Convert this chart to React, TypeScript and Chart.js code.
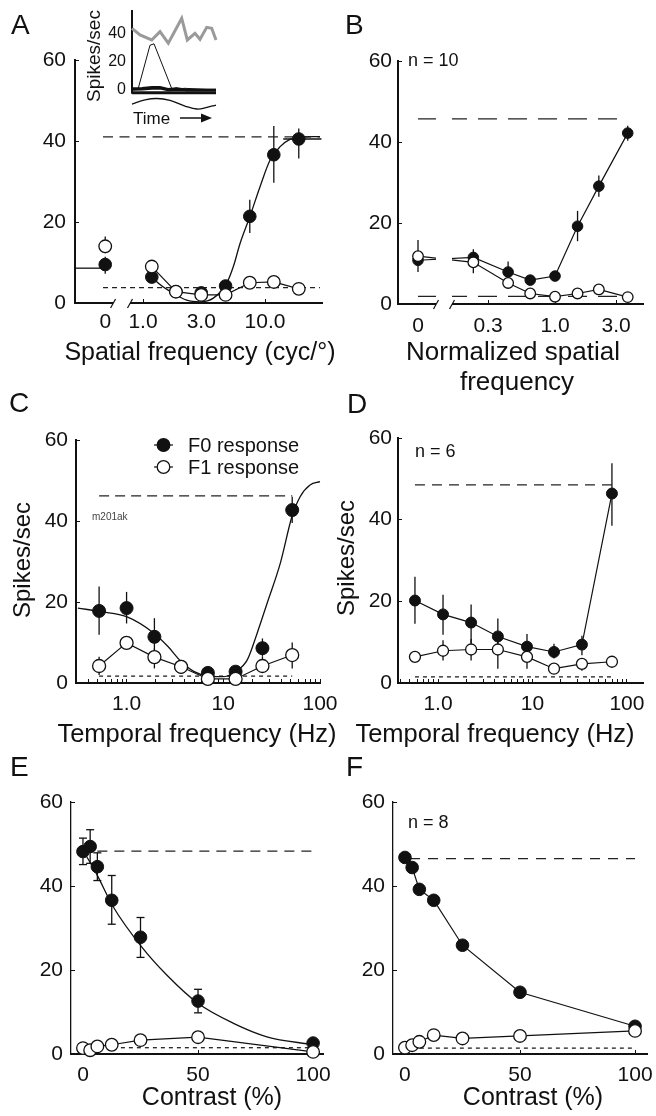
import React, { useEffect, useRef } from "react";
import { Chart, registerables } from "chart.js";

Chart.register(...registerables);

const W = 656;
const H = 1116;
const YW = 60;
const XH = 40;
const FONT = '"Liberation Sans", Arial, Helvetica, sans-serif';
const INK = "#111111";

// ---------- shared ----------
const yTicks = [0, 20, 40, 60];
const yTickLabels = ["0", "20", "40", "60"];
const legendLabels = ["F0 response", "F1 response"];

// ---------- Panel A : spatial frequency (single cell) ----------
const aXMin = 0.277;
const aXMax = 29.3;
const aZeroPos = 0.49; // where the 0 cyc/deg condition is placed
const aBreak = [0.568, 0.782];
const aTickVals = [aZeroPos, 1, 3, 10];
const aTickLabels = ["0", "1.0", "3.0", "10.0"];
const aFreq = [1.18, 1.86, 3.0, 4.75, 7.5, 11.8, 18.9];
const aF0 = [6.4, 2.8, 2.5, 4.2, 21.4, 36.6, 40.5];
const aF1 = [9.0, 2.8, 2.0, 2.0, 5.0, 5.2, 3.5];
const aF0Err = [null, null, null, null, [17.3, 25.5], [29.7, 43.7], [35.7, 43.1]];
const aF1Err = [[8.0, 10.6], null, null, null, null, null, null];
const aF0XErr = [null, null, null, null, null, null, [14.1, 29.0]];
const aZeroF0 = 9.5;
const aZeroF1 = 14.0;
const aZeroF0Err = [7.2, 11.4];
const aZeroF1Err = [12.3, 16.4];
const aFitX = [1.2, 1.29, 1.77, 2.28, 2.93, 3.77, 4.85, 5.5, 6.24, 7.5, 9.1, 11, 13.3, 16, 19.4, 28.2];
const aFitY = [6.5, 5.3, 2.4, 0.7, 0.3, 1.2, 4.9, 9.0, 14.7, 21.3, 28.7, 35.3, 38.6, 40.4, 40.9, 41.1];
const aZeroFit = 8.6;
const aDashX = [0.47, 28.2];
const aUpper = 41;
const aLower = 3.8;

// ---------- Inset in A ----------
const insetGrayT = [0, 8, 19.7, 28, 36.3, 49.7, 55.3, 63, 68, 74.7, 79.7, 84];
const insetGrayV = [43.4, 38.7, 35.2, 41.1, 32.9, 50.5, 35.2, 39.9, 35.7, 44.1, 43.4, 35.2];
const insetThinT = [0, 6, 18, 22, 40, 44, 48, 52, 84];
const insetThinV = [0, 0.5, 31.5, 32.5, 0.5, 1.5, 0.5, 1.2, 0];
const insetThickT = [0, 10, 20, 28, 36, 45, 55, 84];
const insetThick1V = [1, 1.2, 2, 2, 0.5, 1, 0, 0];
const insetThick2V = [0.3, 0.5, 1, 1.2, 0, 0.3, 0, 0];
const insetWaveT = [0, 13, 25, 38, 53, 65, 75, 84];
const insetWaveV = [-9.9, -7, -6, -7.4, -11.3, -13.4, -12.3, -10.6];
const insetYTicks = [0, 20, 40];
const insetYTickLabels = ["0", "20", "40"];

// ---------- Panel B : normalized spatial frequency (n = 10) ----------
const bXMin = 0.0593;
const bXMax = 4.87;
const bZeroPos = 0.085;
const bBreak = [0.1175, 0.1567];
const bTickVals = [bZeroPos, 0.3, 1, 3];
const bTickLabels = ["0", "0.3", "1.0", "3.0"];
const bFreq = [0.23, 0.43, 0.64, 1.0, 1.5, 2.2, 3.7];
const bF0 = [11.5, 7.9, 5.9, 6.9, 19.2, 29.1, 42.2];
const bF1 = [10.3, 5.2, 2.6, 1.8, 2.6, 3.6, 1.7];
const bF0Err = [[9.5, 13.5], [6.0, 10.5], null, null, [15.5, 23.0], [26.5, 31.7], [40.3, 44.0]];
const bF1Err = [[7.6, 12.0], null, null, null, null, null, null];
const bZeroF0 = 10.8;
const bZeroF1 = 11.8;
const bZeroErr = [7.9, 15.8];
const bUpper = 45.7;
const bLower = 1.9;

// ---------- Panel C : temporal frequency (single cell) ----------
const cXMin = 0.314;
const cXMax = 100;
const logMajor = [1, 10, 100];
const logMajorLabels = ["1.0", "10", "100"];
const logMinor = [0.4, 0.5, 0.6, 0.7, 0.8, 0.9, 2, 3, 4, 5, 6, 7, 8, 9, 20, 30, 40, 50, 60, 70, 80, 90];
const cFreq = [0.52, 1.0, 1.94, 3.66, 6.93, 13.4, 25.4, 51.6];
const cF0 = [17.8, 18.5, 11.4, 4.0, 2.5, 2.8, 8.6, 42.7];
const cF1 = [4.2, 9.9, 6.4, 4.0, 1.0, 1.0, 4.2, 6.9];
const cF0Err = [[11.9, 23.8], [14.7, 22.5], [7.7, 16.0], null, null, null, [6.5, 11.0], [39.5, 46.0]];
const cF1Err = [[2.0, 6.5], [8.3, 11.6], [3.6, 8.5], null, null, null, [2.8, 6.5], [3.6, 10.0]];
const cFitX = [0.314, 0.55, 1.0, 1.92, 2.68, 3.66, 5.0, 6.98, 9.8, 13.4, 17.7, 22.4, 28.4, 38.9, 51.3, 62.3, 78.9, 100];
const cFitY = [18.5, 17.6, 16.4, 12.3, 9.0, 5.3, 2.8, 1.7, 1.55, 2.8, 5.7, 12.3, 19.7, 29.6, 41.1, 46.0, 48.9, 49.7];
const cUpper = 46.2;
const cLower = 1.7;

// ---------- Panel D : temporal frequency (n = 6) ----------
const dXMin = 0.377;
const dXMax = 148;
const dFreq = [0.57, 1.13, 2.24, 4.3, 8.75, 16.9, 33.4, 69.4];
const dF0 = [20.2, 16.8, 14.8, 11.4, 8.9, 7.6, 9.4, 46.4];
const dF1 = [6.4, 7.9, 8.2, 8.2, 6.4, 3.5, 4.7, 5.2];
const dF0Err = [[14.5, 26.0], [11.8, 21.6], [9.8, 19.2], [7.5, 15.8], [6.3, 12.0], [6.0, 9.6], [6.8, 11.6], [38.5, 53.8]];
const dF1Err = [null, [5.5, 10.5], [5.5, 10.8], [3.5, 11.0], [3.5, 9.0], null, [3.0, 6.0], null];
const dUpper = 48.5;
const dLower = 1.5;

// ---------- Panels E, F : contrast ----------
const contrast = [0, 3.125, 6.25, 12.5, 25, 50, 100];
const linTicks = [0, 50, 100];
const linTickLabels = ["0", "50", "100"];
const eF0 = [48.2, 49.4, 44.6, 36.6, 27.8, 12.6, 2.6];
const eF1 = [1.4, 0.9, 1.8, 2.2, 3.3, 4.0, 0.5];
const eF0Err = [[45.1, 51.4], [45.4, 53.4], [41.3, 47.9], [30.9, 42.5], [23.0, 32.5], [9.8, 15.4], null];
const eFitX = [0, 5.9, 13.2, 25.5, 36.4, 50.1, 65.4, 79.9, 100];
const eFitY = [48.5, 42.9, 35.0, 25.5, 18.8, 12.0, 7.3, 4.1, 2.2];
const eUpper = 48.3;
const eUpperX = [6.25, 100];
const eLower = 1.5;
const eLowerX = [13, 100];

const fF0 = [46.8, 44.4, 39.2, 36.6, 25.9, 14.7, 6.6];
const fF1 = [1.5, 2.1, 2.9, 4.5, 3.7, 4.3, 5.5];
const fUpper = 46.5;
const fUpperX = [2.2, 100];
const fLower = 1.4;
const fLowerX = [3, 100];

// ---------- helpers ----------
type Area = { l: number; t: number; r: number; b: number };

const pts = (xs: number[], ys: number[]) => xs.map((x, i) => ({ x, y: ys[i] }));

function layoutFor(a: Area) {
  return { padding: { left: a.l - YW, top: a.t, right: W - a.r, bottom: H - a.b - XH } };
}

function yAxis(gap: number, bw: number) {
  return {
    type: "linear",
    min: 0,
    max: 60,
    afterBuildTicks: (s: any) => {
      s.ticks = yTicks.map((v) => ({ value: v }));
    },
    afterFit: (s: any) => {
      s.width = YW;
      s.paddingTop = 0;
      s.paddingBottom = 0;
    },
    ticks: { font: { family: FONT, size: 21 }, color: INK, padding: gap + 4, callback: (_v: any, i: number) => yTickLabels[i] },
    grid: { display: true, drawOnChartArea: false, drawTicks: true, tickLength: -4, tickWidth: 1, tickColor: INK },
    border: { display: true, color: INK, width: bw },
  };
}

function xAxis(o: { type: string; min: number; max: number; vals: number[]; labels: string[]; pad: number; hideFirst?: boolean }) {
  return {
    type: o.type,
    min: o.min,
    max: o.max,
    afterBuildTicks: (s: any) => {
      s.ticks = o.vals.map((v) => ({ value: v }));
    },
    afterFit: (s: any) => {
      s.height = XH;
      s.paddingLeft = 0;
      s.paddingRight = 0;
    },
    ticks: {
      font: { family: FONT, size: 21 },
      color: INK,
      padding: o.pad,
      autoSkip: false,
      maxRotation: 0,
      minRotation: 0,
      callback: (_v: any, i: number) => o.labels[i],
    },
    grid: {
      display: true,
      drawOnChartArea: false,
      drawTicks: true,
      tickLength: -4,
      tickWidth: 1,
      tickColor: (c: any) => (o.hideFirst && c.index === 0 ? "rgba(0,0,0,0)" : INK),
    },
    border: { display: true, color: INK, width: 2 },
  };
}

function logTicks(min: number, max: number) {
  const all = [...logMinor, ...logMajor].filter((v) => v >= min && v <= max).sort((a, b) => a - b);
  const labels = all.map((v) => {
    const k = logMajor.indexOf(v);
    return k >= 0 ? logMajorLabels[k] : "";
  });
  return { vals: all, labels };
}

function filledPts(data: any[], r: number, line = false) {
  return {
    data,
    showLine: line,
    borderColor: INK,
    borderWidth: 1.2,
    pointRadius: r,
    pointHoverRadius: r,
    pointBackgroundColor: INK,
    pointBorderColor: INK,
    pointBorderWidth: 1,
    clip: false,
    order: 2,
  };
}

function openPts(data: any[], r: number, line = false) {
  return {
    data,
    showLine: line,
    borderColor: INK,
    borderWidth: 1.2,
    pointRadius: r,
    pointHoverRadius: r,
    pointBackgroundColor: "#ffffff",
    pointBorderColor: INK,
    pointBorderWidth: 1.3,
    clip: false,
    order: 1,
  };
}

function curve(data: any[]) {
  return {
    data,
    borderColor: INK,
    borderWidth: 1.3,
    pointRadius: 0,
    cubicInterpolationMode: "monotone",
    clip: false,
    order: 4,
  };
}

function dashed(x0: number, x1: number, y: number, dash: number[]) {
  return {
    data: [
      { x: x0, y },
      { x: x1, y },
    ],
    borderColor: "#222222",
    borderWidth: 1.3,
    borderDash: dash,
    pointRadius: 0,
    clip: false,
    order: 5,
  };
}

function drawLine(ctx: CanvasRenderingContext2D, x0: number, y0: number, x1: number, y1: number) {
  ctx.beginPath();
  ctx.moveTo(x0, y0);
  ctx.lineTo(x1, y1);
  ctx.stroke();
}

// ---------- plugins ----------
const errorBars = {
  id: "errorBars",
  beforeDatasetsDraw(chart: any, _a: any, o: any) {
    if (!o || (!o.sets && !o.hsets)) return;
    const { ctx } = chart;
    const x = chart.scales.x;
    const y = chart.scales.y;
    ctx.save();
    ctx.strokeStyle = INK;
    ctx.lineWidth = 1.3;
    (o.sets || []).forEach((s: any) => {
      s.xs.forEach((xv: number, i: number) => {
        const e = s.err[i];
        if (!e) return;
        const px = x.getPixelForValue(xv);
        const p0 = y.getPixelForValue(e[0]);
        const p1 = y.getPixelForValue(e[1]);
        drawLine(ctx, px, p0, px, p1);
        if (o.cap) {
          drawLine(ctx, px - o.cap, p0, px + o.cap, p0);
          drawLine(ctx, px - o.cap, p1, px + o.cap, p1);
        }
      });
    });
    (o.hsets || []).forEach((s: any) => {
      s.ys.forEach((yv: number, i: number) => {
        const e = s.err[i];
        if (!e) return;
        const py = y.getPixelForValue(yv);
        drawLine(ctx, x.getPixelForValue(e[0]), py, x.getPixelForValue(e[1]), py);
      });
    });
    ctx.restore();
  },
};

const axisBreak = {
  id: "axisBreak",
  afterDatasetsDraw(chart: any, _a: any, o: any) {
    if (!o || !o.range) return;
    const { ctx, chartArea } = chart;
    const x = chart.scales.x;
    const x0 = x.getPixelForValue(o.range[0]);
    const x1 = x.getPixelForValue(o.range[1]);
    const top = o.full ? chartArea.top : chartArea.bottom - 3;
    ctx.save();
    ctx.fillStyle = "#ffffff";
    ctx.fillRect(x0, top, x1 - x0, chartArea.bottom + 3 - top);
    ctx.strokeStyle = INK;
    ctx.lineWidth = 1.2;
    [x0, x1].forEach((px) => drawLine(ctx, px - 2.5, chartArea.bottom + 5, px + 2.5, chartArea.bottom - 4));
    ctx.restore();
  },
};

const legendMarks = {
  id: "legendMarks",
  afterDatasetsDraw(chart: any, _a: any, o: any) {
    if (!o || !o.rows) return;
    const { ctx } = chart;
    ctx.save();
    o.rows.forEach((row: any, i: number) => {
      const y = o.y0 + i * o.dy;
      ctx.strokeStyle = INK;
      ctx.lineWidth = 1.2;
      drawLine(ctx, o.x0, y, o.x1, y);
      ctx.beginPath();
      ctx.arc((o.x0 + o.x1) / 2, y, o.r, 0, Math.PI * 2);
      ctx.fillStyle = row.fill;
      ctx.fill();
      ctx.lineWidth = 1.3;
      ctx.stroke();
      ctx.fillStyle = INK;
      ctx.font = `20px ${FONT}`;
      ctx.textBaseline = "middle";
      ctx.textAlign = "left";
      ctx.fillText(row.label, o.tx, y + 1);
    });
    ctx.restore();
  },
};

const insetAxes = {
  id: "insetAxes",
  beforeDatasetsDraw(chart: any, _a: any, o: any) {
    if (!o || o.base === undefined) return;
    const { ctx, chartArea } = chart;
    const yb = chart.scales.y.getPixelForValue(o.base);
    ctx.save();
    ctx.strokeStyle = INK;
    ctx.lineWidth = 2;
    drawLine(ctx, chartArea.left, chartArea.top, chartArea.left, yb + 1);
    ctx.lineWidth = 3;
    drawLine(ctx, chartArea.left, yb, chartArea.right, yb);
    const [ax0, ax1, ay] = o.arrow;
    ctx.lineWidth = 1.5;
    drawLine(ctx, ax0, ay, ax1 - 8, ay);
    ctx.beginPath();
    ctx.moveTo(ax1, ay);
    ctx.lineTo(ax1 - 11, ay - 4.5);
    ctx.lineTo(ax1 - 11, ay + 4.5);
    ctx.closePath();
    ctx.fillStyle = INK;
    ctx.fill();
    ctx.restore();
  },
};

function baseOptions(area: Area, x: any, y: any, plugins: any) {
  return {
    responsive: false,
    animation: false,
    devicePixelRatio: 1,
    events: [],
    layout: layoutFor(area),
    scales: { x, y },
    plugins: { legend: { display: false }, tooltip: { enabled: false }, ...plugins },
  };
}

// ---------- chart configs ----------
function configA() {
  const area = { l: 75, t: 60, r: 322, b: 303 };
  return {
    type: "line",
    data: {
      datasets: [
        openPts(pts(aFreq, aF1), 6.3, true),
        openPts([{ x: aZeroPos, y: aZeroF1 }], 6.3),
        filledPts(pts(aFreq, aF0), 6.3),
        filledPts([{ x: aZeroPos, y: aZeroF0 }], 6.3),
        curve(pts(aFitX, aFitY)),
        curve([
          { x: aXMin, y: aZeroFit },
          { x: aZeroPos, y: aZeroFit },
        ]),
        dashed(aDashX[0], aDashX[1], aUpper, [10, 6.5]),
        dashed(aDashX[0], aDashX[1], aLower, [5, 4]),
      ],
    },
    options: baseOptions(
      area,
      xAxis({ type: "logarithmic", min: aXMin, max: aXMax, vals: aTickVals, labels: aTickLabels, pad: 10.9, hideFirst: true }),
      yAxis(9, 2),
      {
        errorBars: {
          sets: [
            { xs: aFreq, err: aF0Err },
            { xs: aFreq, err: aF1Err },
            { xs: [aZeroPos], err: [aZeroF0Err] },
            { xs: [aZeroPos], err: [aZeroF1Err] },
          ],
          hsets: [{ ys: aF0, err: aF0XErr }],
        },
        axisBreak: { range: aBreak, full: false },
      }
    ),
    plugins: [errorBars, axisBreak],
  };
}

function configInset() {
  const area = { l: 132, t: 10, r: 216, b: 112 };
  return {
    type: "line",
    data: {
      datasets: [
        { data: pts(insetGrayT, insetGrayV), borderColor: "#9a9a9a", borderWidth: 3, pointRadius: 0, clip: false },
        { data: pts(insetThinT, insetThinV), borderColor: INK, borderWidth: 1, pointRadius: 0, clip: false },
        { data: pts(insetThickT, insetThick1V), borderColor: INK, borderWidth: 2.5, pointRadius: 0, clip: false },
        { data: pts(insetThickT, insetThick2V), borderColor: INK, borderWidth: 2.5, pointRadius: 0, clip: false },
        { data: pts(insetWaveT, insetWaveV), borderColor: INK, borderWidth: 1.3, pointRadius: 0, tension: 0.4, clip: false },
      ],
    },
    options: {
      responsive: false,
      animation: false,
      devicePixelRatio: 1,
      events: [],
      layout: { padding: { left: area.l - 30, top: area.t, right: W - area.r, bottom: H - area.b } },
      scales: {
        x: { type: "linear", min: 0, max: 84, display: false },
        y: {
          type: "linear",
          min: -15.5,
          max: 56.3,
          afterBuildTicks: (s: any) => {
            s.ticks = insetYTicks.map((v) => ({ value: v }));
          },
          afterFit: (s: any) => {
            s.width = 30;
            s.paddingTop = 0;
            s.paddingBottom = 0;
          },
          ticks: { font: { family: FONT, size: 16 }, color: INK, padding: 6, callback: (_v: any, i: number) => insetYTickLabels[i] },
          grid: { display: false, drawTicks: false },
          border: { display: false },
        },
      },
      plugins: { legend: { display: false }, tooltip: { enabled: false }, insetAxes: { base: -2, arrow: [180, 212, 118] } },
    },
    plugins: [insetAxes],
  };
}

function configB() {
  const area = { l: 398, t: 61, r: 643, b: 304 };
  return {
    type: "line",
    data: {
      datasets: [
        openPts([{ x: bZeroPos, y: bZeroF1 }, ...pts(bFreq, bF1)], 5.3, true),
        filledPts([{ x: bZeroPos, y: bZeroF0 }, ...pts(bFreq, bF0)], 5.3, true),
        dashed(bZeroPos, bFreq[bFreq.length - 1], bUpper, [19, 11]),
        dashed(bZeroPos, bFreq[bFreq.length - 1], bLower, [19, 11]),
      ],
    },
    options: baseOptions(
      area,
      xAxis({ type: "logarithmic", min: bXMin, max: bXMax, vals: bTickVals, labels: bTickLabels, pad: 13.4, hideFirst: true }),
      yAxis(6, 2),
      {
        errorBars: {
          sets: [
            { xs: bFreq, err: bF0Err },
            { xs: bFreq, err: bF1Err },
            { xs: [bZeroPos], err: [bZeroErr] },
          ],
        },
        axisBreak: { range: bBreak, full: true },
      }
    ),
    plugins: [errorBars, axisBreak],
  };
}

function configC() {
  const area = { l: 76, t: 440, r: 320, b: 683 };
  const t = logTicks(cXMin, cXMax);
  return {
    type: "line",
    data: {
      datasets: [
        openPts(pts(cFreq, cF1), 6.5, true),
        filledPts(pts(cFreq, cF0), 6.5),
        curve(pts(cFitX, cFitY)),
        dashed(cFreq[0], cFreq[cFreq.length - 1], cUpper, [10, 6]),
        dashed(cFreq[0], cFreq[cFreq.length - 1], cLower, [4, 4]),
      ],
    },
    options: baseOptions(
      area,
      xAxis({ type: "logarithmic", min: cXMin, max: cXMax, vals: t.vals, labels: t.labels, pad: 12.9 }),
      yAxis(8, 2),
      {
        errorBars: {
          sets: [
            { xs: cFreq, err: cF0Err },
            { xs: cFreq, err: cF1Err },
          ],
        },
        legendMarks: {
          rows: [
            { label: legendLabels[0], fill: INK },
            { label: legendLabels[1], fill: "#ffffff" },
          ],
          x0: 154,
          x1: 173,
          y0: 445,
          dy: 22,
          r: 6.3,
          tx: 188,
        },
      }
    ),
    plugins: [errorBars, legendMarks],
  };
}

function configD() {
  const area = { l: 398, t: 438, r: 643, b: 683 };
  const t = logTicks(dXMin, dXMax);
  return {
    type: "line",
    data: {
      datasets: [
        openPts(pts(dFreq, dF1), 5.5, true),
        filledPts(pts(dFreq, dF0), 5.5, true),
        dashed(dFreq[0], dFreq[dFreq.length - 1], dUpper, [10, 7]),
        dashed(dFreq[0], dFreq[dFreq.length - 1], dLower, [4, 4]),
      ],
    },
    options: baseOptions(
      area,
      xAxis({ type: "logarithmic", min: dXMin, max: dXMax, vals: t.vals, labels: t.labels, pad: 12.9 }),
      yAxis(6, 2),
      {
        errorBars: {
          sets: [
            { xs: dFreq, err: dF0Err },
            { xs: dFreq, err: dF1Err },
          ],
        },
      }
    ),
    plugins: [errorBars],
  };
}

function configE() {
  const area = { l: 71, t: 802, r: 323, b: 1054 };
  return {
    type: "line",
    data: {
      datasets: [
        openPts(pts(contrast, eF1), 6.3, true),
        filledPts(pts(contrast, eF0), 6.3),
        curve(pts(eFitX, eFitY)),
        dashed(eUpperX[0], eUpperX[1], eUpper, [10, 7]),
        dashed(eLowerX[0], eLowerX[1], eLower, [4, 4]),
      ],
    },
    options: baseOptions(
      area,
      xAxis({ type: "linear", min: -5.2, max: 104.3, vals: linTicks, labels: linTickLabels, pad: 12.4 }),
      yAxis(8, 1.3),
      { errorBars: { sets: [{ xs: contrast, err: eF0Err }], cap: 4 } }
    ),
    plugins: [errorBars],
  };
}

function configF() {
  const area = { l: 393, t: 802, r: 647, b: 1054 };
  return {
    type: "line",
    data: {
      datasets: [
        openPts(pts(contrast, fF1), 6.3, true),
        filledPts(pts(contrast, fF0), 6.3, true),
        dashed(fUpperX[0], fUpperX[1], fUpper, [10, 8]),
        dashed(fLowerX[0], fLowerX[1], fLower, [4, 4]),
      ],
    },
    options: baseOptions(
      area,
      xAxis({ type: "linear", min: -5.2, max: 105.2, vals: linTicks, labels: linTickLabels, pad: 12.4 }),
      yAxis(8, 1.3),
      {}
    ),
    plugins: [],
  };
}

// ---------- components ----------
function ChartLayer({ make }: { make: () => any }) {
  const ref = useRef<HTMLCanvasElement>(null);
  useEffect(() => {
    const chart = new Chart(ref.current as HTMLCanvasElement, make());
    return () => chart.destroy();
  }, []);
  return <canvas ref={ref} width={W} height={H} style={{ position: "absolute", left: 0, top: 0, width: W, height: H }} />;
}

function Txt({ x, base, size, center, color, children }: any) {
  return (
    <div
      style={{
        position: "absolute",
        left: x,
        top: base - 0.8465 * size,
        fontFamily: FONT,
        fontSize: size,
        lineHeight: `${size}px`,
        whiteSpace: "nowrap",
        color: color || INK,
        transform: center ? "translateX(-50%)" : undefined,
      }}
    >
      {children}
    </div>
  );
}

function RotTxt({ cx, cy, size, children }: any) {
  return (
    <div
      style={{
        position: "absolute",
        left: cx,
        top: cy,
        fontFamily: FONT,
        fontSize: size,
        lineHeight: `${size}px`,
        whiteSpace: "nowrap",
        color: INK,
        transform: "translate(-50%, -50%) rotate(-90deg)",
      }}
    >
      {children}
    </div>
  );
}

export default function App() {
  return (
    <div style={{ position: "absolute", left: 0, top: 0, width: W, height: H, background: "#ffffff", overflow: "hidden" }}>
      <ChartLayer make={configA} />
      <ChartLayer make={configB} />
      <ChartLayer make={configC} />
      <ChartLayer make={configD} />
      <ChartLayer make={configE} />
      <ChartLayer make={configF} />
      <ChartLayer make={configInset} />

      <Txt x={11} base={35} size={28}>A</Txt>
      <Txt x={345} base={35} size={28}>B</Txt>
      <Txt x={9} base={413} size={28}>C</Txt>
      <Txt x={347} base={414} size={28}>D</Txt>
      <Txt x={10} base={777} size={28}>E</Txt>
      <Txt x={346} base={777} size={28}>F</Txt>

      <Txt x={408} base={66} size={18}>n = 10</Txt>
      <Txt x={415} base={457} size={18}>n = 6</Txt>
      <Txt x={408} base={828} size={18}>n = 8</Txt>
      <Txt x={92} base={520} size={10} color="#444444">m201ak</Txt>

      <Txt x={200} base={360} size={25} center>Spatial frequency (cyc/°)</Txt>
      <Txt x={513} base={360} size={26} center>Normalized spatial</Txt>
      <Txt x={517} base={390} size={26} center>frequency</Txt>
      <Txt x={197} base={743} size={25.5} center>Temporal frequency (Hz)</Txt>
      <Txt x={495} base={743} size={25.5} center>Temporal frequency (Hz)</Txt>
      <Txt x={212} base={1105} size={25} center>Contrast (%)</Txt>
      <Txt x={533} base={1105} size={25} center>Contrast (%)</Txt>

      <RotTxt cx={22} cy={560} size={24}>Spikes/sec</RotTxt>
      <RotTxt cx={346} cy={558} size={24}>Spikes/sec</RotTxt>
      <RotTxt cx={93} cy={56} size={19}>Spikes/sec</RotTxt>
      <Txt x={133} base={124} size={17}>Time</Txt>
    </div>
  );
}
